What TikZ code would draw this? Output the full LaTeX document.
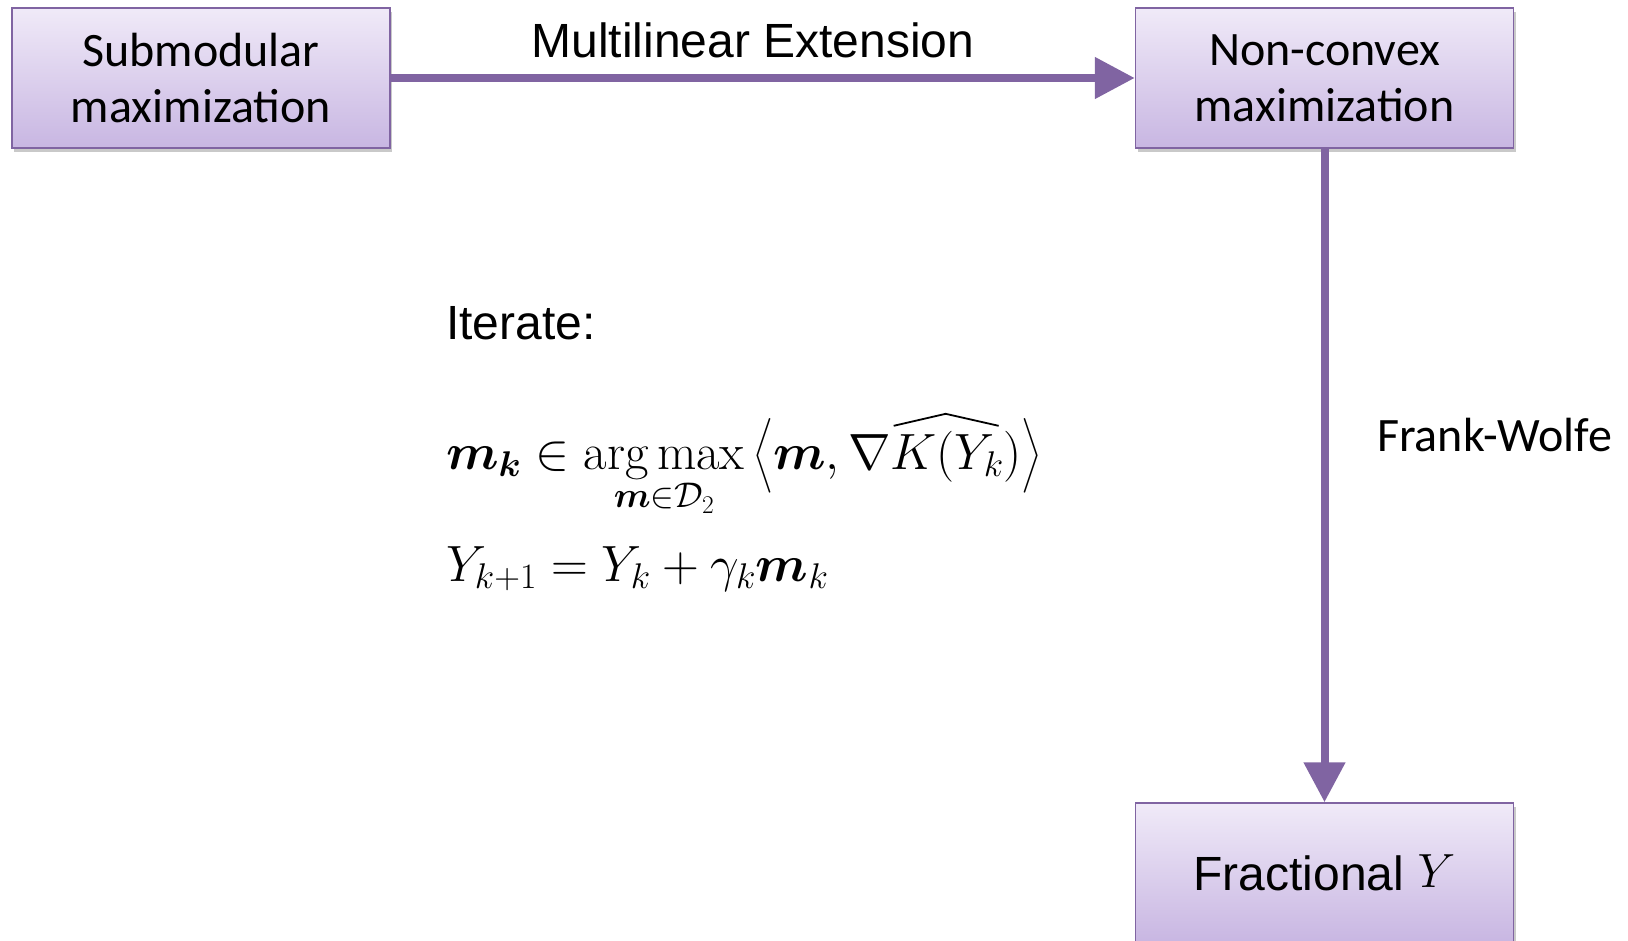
\RequirePackage{fix-cm}
\documentclass[tikz,border=0pt]{standalone}
\usepackage{amsmath}
\usepackage{fontspec}
\usetikzlibrary{arrows.meta,shadows}
\newfontfamily\calibrifont{Carlito}
\newfontfamily\arialfont{Liberation Sans}
\definecolor{pborder}{HTML}{8064A2}
\definecolor{ptop}{HTML}{F0EAF8}
\definecolor{pbot}{HTML}{C8B6E2}
\newcommand{\widehatdraw}{\tikz[baseline=0pt]{\draw[black, line width=1.8pt, line join=miter] (0pt,0pt) -- (52pt,12pt) -- (105pt,0pt); \path (0pt,-2pt) (126pt,0pt);}}
\begin{document}
\begin{tikzpicture}[x=1pt,y=-1pt,
  box/.style={draw=pborder, line width=1.5pt, top color=ptop, bottom color=pbot,
    minimum width=378pt, minimum height=140pt, inner sep=0pt, align=center,
    drop shadow={shadow xshift=2pt, shadow yshift=-4pt, opacity=0.3, fill=black!70}},
  calib/.style={font=\calibrifont\fontsize{48}{56}\selectfont},
  arial/.style={font=\arialfont\fontsize{48}{56}\selectfont},
  conn/.style={draw=pborder, line width=8pt, -{Triangle[length=40pt,width=40pt]}},
  lbl/.style={inner sep=0pt, outer sep=0pt},
  eq/.style={inner sep=0pt, outer sep=0pt, font=\fontsize{51}{60}\selectfont},
]
\useasboundingbox (0,0) rectangle (1628,941);
\node[box, calib] (sub) at (201,78) {Submodular\\maximization};
\node[box, calib] (nonc) at (1324.5,78) {Non-convex\\maximization};
\node[box, arial] (frac) at (1324.5,873) {Fractional \raisebox{3pt}{$Y$}};
\draw[conn] (sub.east) -- (nonc.west);
\draw[conn] (nonc.south) -- (frac.north);
\node[lbl, arial, anchor=base] (ml) at (753,58) {Multilinear Extension};
\node[lbl, calib, anchor=base west] (fw) at (1377,451) {Frank-Wolfe};
\node[lbl, arial, anchor=base west] (it) at (446,339) {Iterate:};
\node[eq, anchor=base west] (eq1) at (446,469)
  {$\displaystyle \boldsymbol{m}_{\boldsymbol{k}}\in\operatorname*{arg\,max}_{\boldsymbol{m}\in\mathcal{D}_2}\bigg\langle \boldsymbol{m},\nabla\overset{\widehatdraw}{K(Y_k)}\bigg\rangle$};
\node[eq, anchor=base west] (eq2) at (446,581)
  {$\displaystyle Y_{k+1}=Y_k+\gamma_k\boldsymbol{m}_k$};
\end{tikzpicture}
\end{document}
